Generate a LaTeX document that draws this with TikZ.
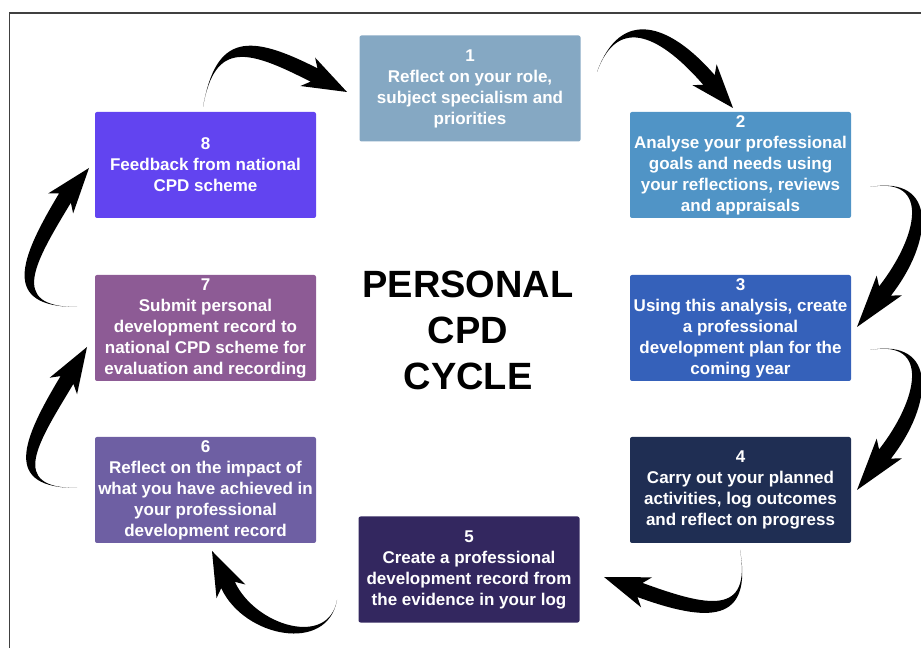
\documentclass[tikz,border=0pt]{standalone}
\usepackage{xcolor}
\usepackage{fontspec}
\setmainfont{Liberation Sans}
\usepackage{tikz}
\usetikzlibrary{calc,positioning}
\definecolor{boxA}{RGB}{133,168,195}
\definecolor{boxB}{RGB}{80,148,198}
\definecolor{boxC}{RGB}{53,97,186}
\definecolor{boxD}{RGB}{31,46,83}
\definecolor{boxE}{RGB}{51,39,95}
\definecolor{boxF}{RGB}{110,95,163}
\definecolor{boxG}{RGB}{141,91,149}
\definecolor{boxH}{RGB}{98,68,240}
\tikzset{
  cpd_box/.style={rectangle, rounded corners=2pt, minimum width=221pt, minimum height=106pt, inner sep=0pt, align=center, text=white, font=\fontsize{17}{21}\selectfont\bfseries},
  cpd_title/.style={align=center, inner sep=0pt, font=\fontsize{38}{46}\selectfont\bfseries},
  cpd_frame/.style={line width=1.5pt, black!75}
}
\newcommand{\cpdarrow}[6]{%
  \path coordinate (ab) at ($(#2)!-7pt!(#3)$);
  \fill (#1) to[out=#4,in=#5,looseness=#6] ($(#2)!7.5pt!90:(#3)$)
    -- ($(ab)!16pt!90:(#3)$) -- (#3) -- ($(ab)!16pt!-90:(#3)$)
    -- ($(#2)!7.5pt!-90:(#3)$) to[out=#5,in=#4,looseness=#6] (#1) -- cycle;
}

\begin{document}
\begin{tikzpicture}[x=1pt,y=1pt]
  \useasboundingbox (0,0) rectangle (921,648);
  \draw[cpd_frame] (9.5,0) -- (9.5,635) -- (921,635);

  \node[cpd_box, fill=boxA] (s1) at (470,559.5) {1\\Reflect on your role,\\subject specialism and\\priorities};
  \node[cpd_box, fill=boxB] (s2) at (740.5,483) {2\\Analyse your professional\\goals and needs using\\your reflections, reviews\\and appraisals};
  \node[cpd_box, fill=boxC] (s3) at (740.5,320) {3\\Using this analysis, create\\a professional\\development plan for the\\coming year};
  \node[cpd_box, fill=boxD] (s4) at (740.5,158) {4\\Carry out your planned\\activities, log outcomes\\and reflect on progress};
  \node[cpd_box, fill=boxE] (s5) at (469,78.5) {5\\Create a professional\\development record from\\the evidence in your log};
  \node[cpd_box, fill=boxF] (s6) at (205.5,158) {6\\Reflect on the impact of\\what you have achieved in\\your professional\\development record};
  \node[cpd_box, fill=boxG] (s7) at (205.5,320) {7\\Submit personal\\development record to\\national CPD scheme for\\evaluation and recording};
  \node[cpd_box, fill=boxH] (s8) at (205.5,483) {8\\Feedback from national\\CPD scheme};

  \node[cpd_title] (title) at (468,318) {PERSONAL\\CPD\\CYCLE};

  \coordinate (t12) at (597,576);
  \coordinate (n12) at (709,568);
  \coordinate (h12) at (733,540);
  \coordinate (t23) at (870,461);
  \coordinate (n23) at (885,357);
  \coordinate (h23) at (857,321);
  \coordinate (t34) at (870,298);
  \coordinate (n34) at (885,194);
  \coordinate (h34) at (857,158);
  \coordinate (t45) at (740,98);
  \coordinate (n45) at (640,58);
  \coordinate (h45) at (604,71);
  \coordinate (t56) at (337,48);
  \coordinate (n56) at (228,63);
  \coordinate (h56) at (212,97);
  \coordinate (t67) at (77,160);
  \coordinate (n67) at (67,268);
  \coordinate (h67) at (87,301);
  \coordinate (t78) at (77,341);
  \coordinate (n78) at (65,450);
  \coordinate (h78) at (89,480);
  \coordinate (t81) at (203,541);
  \coordinate (n81) at (314,573);
  \coordinate (h81) at (347,556);

  \cpdarrow{t12}{n12}{h12}{70}{131}{1.5}
  \cpdarrow{t23}{n23}{h23}{10}{52}{1.6}
  \cpdarrow{t34}{n34}{h34}{10}{52}{1.6}
  \cpdarrow{t45}{n45}{h45}{-80}{-20}{1.7}
  \cpdarrow{t56}{n56}{h56}{-100}{-65}{1.2}
  \cpdarrow{t67}{n67}{h67}{180}{239}{1.7}
  \cpdarrow{t78}{n78}{h78}{180}{239}{1.7}
  \cpdarrow{t81}{n81}{h81}{80}{153}{1.6}
\end{tikzpicture}
\end{document}
